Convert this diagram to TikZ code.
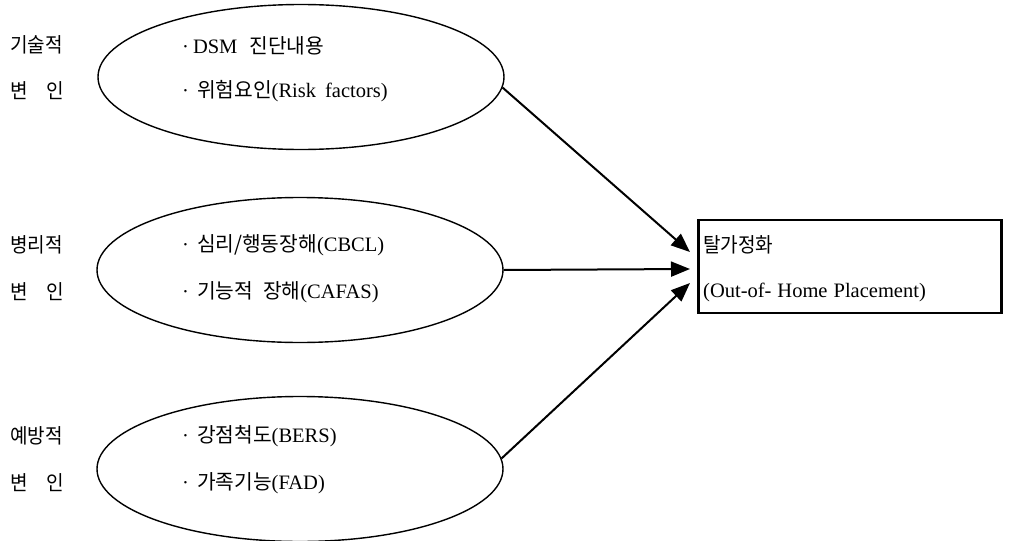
\documentclass[tikz,border=0pt]{standalone}
\usepackage{fontspec}
\setmainfont{Liberation Serif}
\newfontfamily\kr[FakeStretch=0.99]{Noto Sans CJK KR}
\newfontfamily\krn[FakeStretch=0.93]{Noto Sans CJK KR}
\usetikzlibrary{shapes.geometric,arrows.meta}
\tikzset{
  oval/.style={draw,ellipse,line width=1.4pt,minimum width=406pt,minimum height=145pt,inner sep=0pt},
  lbl/.style={anchor=west,inner sep=0pt,font=\fontsize{20.5}{22}\selectfont},
  outbox/.style={draw,line width=2.5pt,minimum width=303pt,minimum height=93pt,inner sep=0pt},
  conn/.style={line width=2pt,-{Triangle[length=19pt,width=15pt]}}
}
\begin{document}
\begin{tikzpicture}[x=1pt,y=-1pt]
\useasboundingbox (0,0) rectangle (1029,541);
% ellipses
\node[oval] (e1) at (301,77) {};
\node[oval] (e2) at (300,270) {};
\node[oval] (e3) at (300,469) {};
% outcome box
\node[outbox] (box) at (850,266.5) {};
% left labels
\node[lbl] (l1a) at (10,45) {\krn 기술적};
\node[lbl] (l1b) at (10,91) {\krn 변\hspace{19pt}인};
\node[lbl] (l2a) at (10,245) {\krn 병리적};
\node[lbl] (l2b) at (10,292) {\krn 변\hspace{19pt}인};
\node[lbl] (l3a) at (10,436) {\krn 예방적};
\node[lbl] (l3b) at (10,483) {\krn 변\hspace{19pt}인};
% ellipse texts
\node[lbl] (t1a) at (182,46) {·\hspace{4pt}DSM\hspace{12pt}{\kr 진단내용}};
\node[lbl] (t1b) at (182,91) {·\hspace{8pt}{\kr 위험요인}(Risk\hspace{9pt}factors)};
\node[lbl] (t2a) at (182,245) {·\hspace{8pt}{\kr 심리/행동장해}(CBCL)};
\node[lbl] (t2b) at (182,292) {·\hspace{8pt}{\kr 기능적\hspace{10pt}장해}(CAFAS)};
\node[lbl] (t3a) at (182,436) {·\hspace{8pt}{\kr 강점척도}(BERS)};
\node[lbl] (t3b) at (182,483) {·\hspace{8pt}{\kr 가족기능}(FAD)};
% box texts
\node[lbl] (b1) at (703,245) {\krn 탈가정화};
\node[lbl] (b2) at (703,292) {(Out-of-\hspace{6pt}Home\hspace{6pt}Placement)};
% arrow tips
\coordinate (p1) at (690,252);
\coordinate (p2) at (690,269);
\coordinate (p3) at (690,283);
\draw[conn] (e1.-3) -- (p1);
\draw[conn] (e2.east) -- (p2);
\draw[conn] (e3.3) -- (p3);
\end{tikzpicture}
\end{document}
